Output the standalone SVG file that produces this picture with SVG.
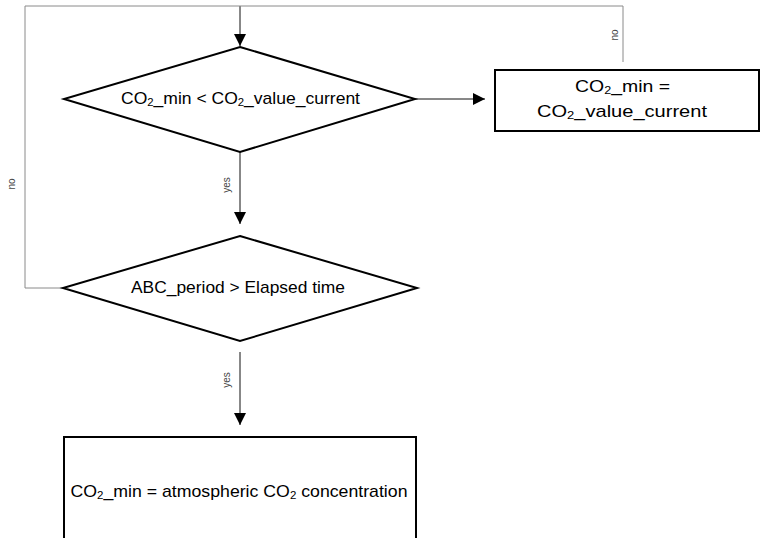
<svg xmlns="http://www.w3.org/2000/svg" width="760" height="538" viewBox="0 0 760 538">
<style>
.shape{fill:#fff;stroke:#000;stroke-width:2}
.conn{fill:none;stroke:#111;stroke-width:1}
.loop{fill:none;stroke:#8a8a8a;stroke-width:1}
.t{font-family:"Liberation Sans",Arial,sans-serif;font-size:17px;fill:#000;text-anchor:middle;dominant-baseline:central}
.lbl{font-family:"Liberation Sans",Arial,sans-serif;font-size:10px;fill:#444;text-anchor:middle;dominant-baseline:central}
</style>
<defs>
<marker id="ah" markerWidth="12" markerHeight="12" refX="12" refY="6" orient="auto" markerUnits="userSpaceOnUse">
<path d="M0,0 L12,6 L0,12 Z" fill="#000"/>
</marker>
</defs>
<rect width="760" height="538" fill="#fff"/>
<g id="connectors">
<path class="conn" d="M240,6 L240,46" marker-end="url(#ah)"/>
<path class="loop" d="M64,288 L25,288 L25,6 L623,6 L623,62"/>
<path class="conn" d="M415,99 L485,99" marker-end="url(#ah)"/>
<path class="conn" d="M240,152 L240,224" marker-end="url(#ah)"/>
<path class="conn" d="M240,352 L240,425" marker-end="url(#ah)"/>
<text class="lbl" transform="translate(614,35) rotate(-90)">no</text>
<text class="lbl" transform="translate(11,184) rotate(-90)">no</text>
<text class="lbl" transform="translate(226,185) rotate(-90)">yes</text>
<text class="lbl" transform="translate(226,380) rotate(-90)">yes</text>
</g>
<g id="decision1">
<polygon class="shape" points="240,47 415,99 240,152 64,99"/>
<text class="t" x="240.5" y="98" textLength="239" lengthAdjust="spacingAndGlyphs">CO<tspan font-size="11" dy="4">2</tspan><tspan dy="-4">_min &lt; CO</tspan><tspan font-size="11" dy="4">2</tspan><tspan dy="-4">_value_current</tspan></text>
</g>
<g id="assign1">
<rect class="shape" x="495" y="70" width="264" height="61"/>
<text class="t" x="622.5" y="86" textLength="95" lengthAdjust="spacingAndGlyphs">CO<tspan font-size="11" dy="4">2</tspan><tspan dy="-4">_min =</tspan></text>
<text class="t" x="622" y="111" textLength="170" lengthAdjust="spacingAndGlyphs">CO<tspan font-size="11" dy="4">2</tspan><tspan dy="-4">_value_current</tspan></text>
</g>
<g id="decision2">
<polygon class="shape" points="240,236 417,288 240,341 63,288"/>
<text class="t" x="238" y="287" textLength="214" lengthAdjust="spacingAndGlyphs">ABC_period &gt; Elapsed time</text>
</g>
<g id="assign2">
<rect class="shape" x="64" y="437" width="352" height="110"/>
<text class="t" x="239" y="491" textLength="337" lengthAdjust="spacingAndGlyphs">CO<tspan font-size="11" dy="4">2</tspan><tspan dy="-4">_min = atmospheric CO</tspan><tspan font-size="11" dy="4">2</tspan><tspan dy="-4"> concentration</tspan></text>
</g>
</svg>
